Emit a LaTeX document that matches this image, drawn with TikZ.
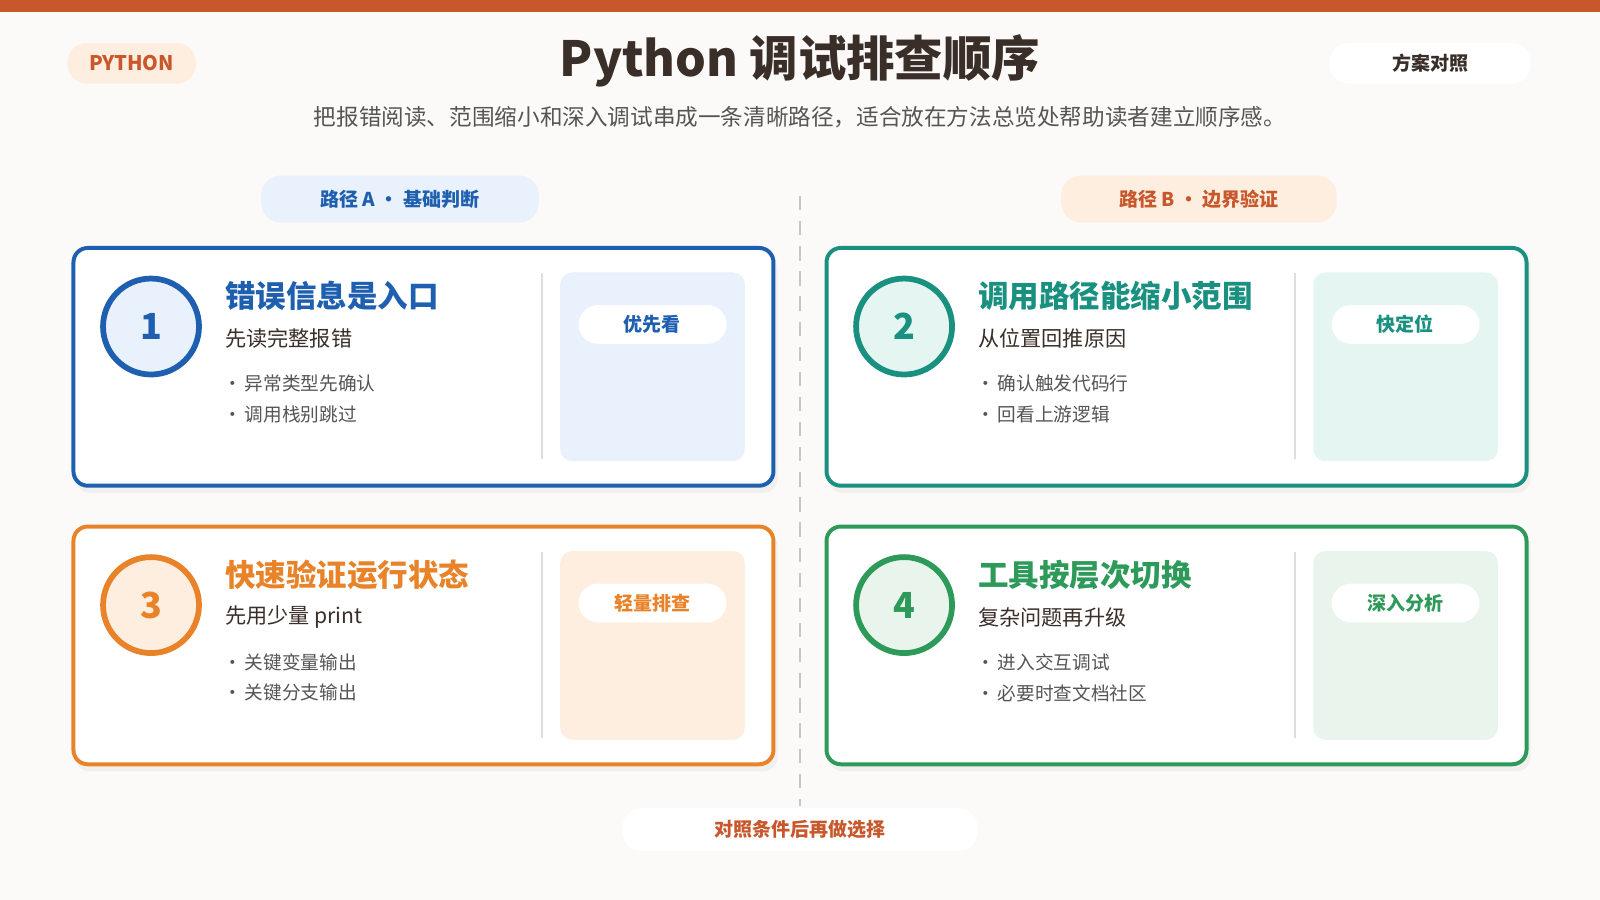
\documentclass[tikz,border=0pt]{standalone}
\usepackage{fontspec}
\setmainfont{Noto Sans CJK SC}
\usetikzlibrary{positioning}
\definecolor{topbar}{HTML}{C8582B}
\definecolor{pagebg}{HTML}{FCFAF8}
\definecolor{inkdark}{HTML}{3A2E28}
\definecolor{inkgrey}{HTML}{555555}
\definecolor{cblue}{HTML}{1F5FAF}
\definecolor{cteal}{HTML}{1A9080}
\definecolor{corange}{HTML}{E8832A}
\definecolor{cgreen}{HTML}{2E9A5A}
\definecolor{fblue}{HTML}{E8F1FC}
\definecolor{fteal}{HTML}{E5F5F1}
\definecolor{forange}{HTML}{FEEEE0}
\definecolor{fgreen}{HTML}{E9F5EC}
\tikzset{
  card/.style={draw=#1, line width=1.1pt, rounded corners=0.14cm, fill=white},
  numcircle/.style={circle, draw=#1, line width=1.6pt, minimum size=0.94cm, inner sep=0pt, font=\fontsize{10}{10}\selectfont\bfseries, text=#1},
  cardtitle/.style={anchor=west, font=\fontsize{8.5}{9}\selectfont\bfseries, text=#1, inner sep=0pt},
  cardsub/.style={anchor=west, font=\fontsize{5.9}{7}\selectfont, text=inkdark, inner sep=0pt},
  bullet/.style={anchor=west, font=\fontsize{5.2}{6}\selectfont, text=inkgrey, inner sep=0pt},
  panel/.style={fill=#1, rounded corners=0.12cm},
  pill/.style={rounded corners=0.19cm, fill=#1},
  pilltext/.style={font=\fontsize{5.3}{6}\selectfont\bfseries, text=#1},
}
\begin{document}
\begin{tikzpicture}[x=0.01cm, y=-0.01cm]
  % background
  \fill[pagebg] (0,0) rectangle (1568,882);
  \useasboundingbox (0,0) rectangle (1568,882);
  \fill[topbar] (0,0) rectangle (1568,12);
  % header
  \fill[pill=forange] (66,42) rectangle (192,82);
  \node[pilltext=topbar, font=\fontsize{5.6}{6}\selectfont\bfseries] (lang) at (129,62) {PYTHON};
  \fill[pill=white] (1303,42) rectangle (1500,82);
  \node[pilltext=inkdark] (compare) at (1402,62) {方案对照};
  \node[font=\fontsize{13.5}{14}\selectfont\bfseries, text=inkdark] (title) at (784,60) {Python 调试排查顺序};
  \node[font=\fontsize{6.3}{7}\selectfont, text=inkgrey] (subtitle) at (784,115) {把报错阅读、范围缩小和深入调试串成一条清晰路径，适合放在方法总览处帮助读者建立顺序感。};
  % path labels
  \fill[pill=fblue] (256,172) rectangle (528,218);
  \node[pilltext=cblue] (pathA) at (392,195) {路径 A · 基础判断};
  \fill[pill=forange] (1040,172) rectangle (1310,218);
  \node[pilltext=topbar] (pathB) at (1175,195) {路径 B · 边界验证};
  % divider
  \coordinate (divtop) at (784,192);
  \coordinate (divbot) at (784,790);
  \draw[gray!45, line width=0.8pt, dash pattern=on 4pt off 3pt] (divtop) -- (divbot);
  % cards
  \foreach \cx/\cy/\col/\fil/\num/\ttl/\sub/\ba/\bb/\badge/\nm in {
      72/243/cblue/fblue/1/错误信息是入口/先读完整报错/异常类型先确认/调用栈别跳过/优先看/one,
      810/243/cteal/fteal/2/调用路径能缩小范围/从位置回推原因/确认触发代码行/回看上游逻辑/快定位/two,
      72/516/corange/forange/3/快速验证运行状态/先用少量 print/关键变量输出/关键分支输出/轻量排查/three,
      810/516/cgreen/fgreen/4/工具按层次切换/复杂问题再升级/进入交互调试/必要时查文档社区/深入分析/four}{
    \fill[black, opacity=0.04, rounded corners=0.14cm] (\cx+2,\cy+6) rectangle (\cx+690,\cy+240);
    \draw[card=\col] (\cx,\cy) rectangle (\cx+686,\cy+233);
    \node[numcircle=\col, fill=\fil] (num\nm) at (\cx+76,\cy+77) {\num};
    \node[cardtitle=\col] (ttl\nm) at (\cx+148,\cy+47) {\ttl};
    \node[cardsub] (sub\nm) at (\cx+148,\cy+89) {\sub};
    \node[bullet] (ba\nm) at (\cx+146,\cy+133) {•\,\ba};
    \node[bullet] (bb\nm) at (\cx+146,\cy+163) {•\,\bb};
    \draw[gray!25, line width=0.6pt] (\cx+459,\cy+25) -- (\cx+459,\cy+207);
    \fill[panel=\fil] (\cx+477,\cy+24) rectangle (\cx+658,\cy+209);
    \fill[pill=white] (\cx+495,\cy+56) rectangle (\cx+640,\cy+94);
    \node[pilltext=\col] (badge\nm) at (\cx+567,\cy+75) {\badge};
  }
  % footer
  \fill[pill=white] (610,792) rectangle (958,834);
  \node[pilltext=topbar] (footer) at (784,813) {对照条件后再做选择};
\end{tikzpicture}
\end{document}
